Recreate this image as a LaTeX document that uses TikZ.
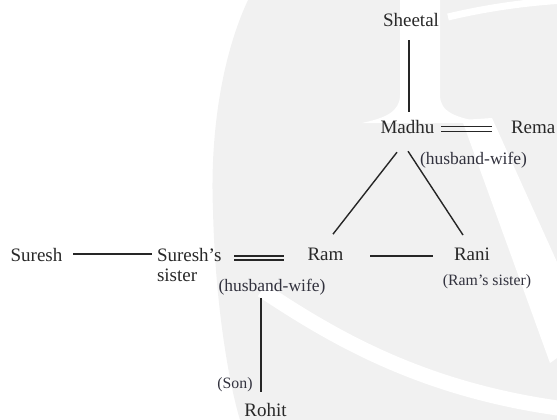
\documentclass[tikz,border=0pt]{standalone}
\usepackage{fontspec}
\setmainfont{Liberation Serif}
\usetikzlibrary{calc}
\definecolor{wm}{RGB}{241,241,241}
\definecolor{txt}{RGB}{40,40,40}
\definecolor{txts}{RGB}{50,50,62}
\begin{document}
\begin{tikzpicture}[x=1pt,y=-1pt,
  every node/.style={inner sep=0pt,outer sep=0pt},
  person/.style={font=\fontsize{19}{20}\selectfont,text=txt,anchor=base},
  hw/.style={font=\fontsize{17.5}{20}\selectfont,text=txts,anchor=base},
  note/.style={font=\fontsize{15.8}{18}\selectfont,text=txts,anchor=base},
  link/.style={line width=1.4pt,draw=black!85}]
\useasboundingbox (0,0) rectangle (557,420);
% faint watermark
\fill[wm] (248,0) .. controls (220,60) and (210,140) .. (213,210) .. controls (215,300) and (228,380) .. (240,420) -- (557,420) -- (557,0) -- cycle;
\fill[white] (400,-5) -- (400,95) .. controls (400,112) and (385,118) .. (362,123)
  -- (488,123) .. controls (455,118) and (440,112) .. (440,95) -- (440,-5) -- cycle;
\fill[white] (462,120) -- (492,118) -- (557,262) -- (557,358) -- (550,363) -- cycle;
\draw[white,line width=15pt] (262,290) .. controls (330,335) and (420,390) .. (565,409);
\draw[white,line width=7pt] (448,17) .. controls (490,7) and (530,2) .. (565,0);
% nodes
\node[person] (sheetal) at (411,27) {Sheetal};
\node[person] (madhu) at (407.5,133) {Madhu};
\node[person,anchor=base west] (rema) at (511,133) {Rema};
\node[hw] (hw1) at (473.5,164) {(husband-wife)};
\node[person] (suresh) at (36.5,261) {Suresh};
\node[person,anchor=base west,align=left] (sister) at (157,281) {Suresh’s\\sister};
\node[person] (ram) at (325.5,260) {Ram};
\node[person] (rani) at (472,260) {Rani};
\node[note] (rs) at (487,285) {(Ram’s sister)};
\node[hw] (hw2) at (272,291) {(husband-wife)};
\node[note] (son) at (235,388) {(Son)};
\node[person] (rohit) at (265.5,416) {Rohit};
% connectors
\draw[link] ($(sheetal.south)+(-2,13)$) -- ($(madhu.north)+(1.5,-8)$);
\draw[link] ($(madhu.east)+(7,0)$) -- ($(madhu.east -| rema.west)+(-19,0)$);
\draw[link] ($(madhu.east)+(7,5)$) -- ($(madhu.east -| rema.west)+(-19,5)$);
\draw[link] ($(madhu.south)+(-10.5,19)$) -- ($(ram.north)+(7.5,-13.4)$);
\draw[link] ($(madhu.south)+(0.5,18)$) -- ($(rani.north)+(-9,-12.4)$);
\draw[link] ($(suresh.east)+(11,-0.5)$) -- ($(suresh.east -| sister.west)+(-5,-0.5)$);
\draw[link] ($(ram.west -| sister.east)+(13,2.3)$) -- ($(ram.west)+(-24,2.3)$);
\draw[link] ($(ram.west -| sister.east)+(13,6.3)$) -- ($(ram.west)+(-24,6.3)$);
\draw[link] ($(ram.east)+(27,2)$) -- ($(ram.east -| rani.west)+(-21,2)$);
\draw[link] ($(hw2.south)+(-11,3.5)$) -- ($(rohit.north)+(-4.5,-11)$);
\end{tikzpicture}
\end{document}
